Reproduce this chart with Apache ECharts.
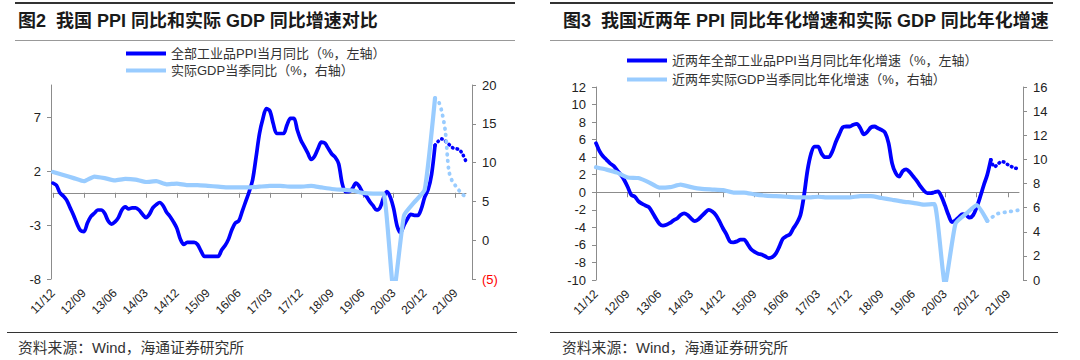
<!DOCTYPE html>
<html><head><meta charset="utf-8">
<script src="https://cdn.jsdelivr.net/npm/echarts@6/dist/echarts.min.js"></script>
<style>html,body{margin:0;padding:0;background:#fff}#c{width:1080px;height:360px}</style>
</head><body><div id="c"></div>
<script>
// ---------- data ----------
const months = ['11/12',
 '12/01','12/02','12/03','12/04','12/05','12/06','12/07','12/08','12/09','12/10','12/11','12/12',
 '13/01','13/02','13/03','13/04','13/05','13/06','13/07','13/08','13/09','13/10','13/11','13/12',
 '14/01','14/02','14/03','14/04','14/05','14/06','14/07','14/08','14/09','14/10','14/11','14/12',
 '15/01','15/02','15/03','15/04','15/05','15/06','15/07','15/08','15/09','15/10','15/11','15/12',
 '16/01','16/02','16/03','16/04','16/05','16/06','16/07','16/08','16/09','16/10','16/11','16/12',
 '17/01','17/02','17/03','17/04','17/05','17/06','17/07','17/08','17/09','17/10','17/11','17/12',
 '18/01','18/02','18/03','18/04','18/05','18/06','18/07','18/08','18/09','18/10','18/11','18/12',
 '19/01','19/02','19/03','19/04','19/05','19/06','19/07','19/08','19/09','19/10','19/11','19/12',
 '20/01','20/02','20/03','20/04','20/05','20/06','20/07','20/08','20/09','20/10','20/11','20/12',
 '21/01','21/02','21/03','21/04','21/05','21/06','21/07','21/08','21/09','21/10','21/11','21/12'];

// Chart 2 (left): PPI YoY monthly, 2011/12 .. 2021/03 (solid)
const ppiYoY = [0.9,
 0.7,0.0,-0.3,-0.7,-1.4,-2.1,-2.9,-3.5,-3.6,-2.8,-2.2,-1.9,
 -1.6,-1.6,-1.9,-2.6,-2.9,-2.7,-2.3,-1.6,-1.3,-1.5,-1.4,-1.4,
 -1.6,-2.0,-2.3,-2.0,-1.4,-1.1,-0.9,-1.2,-1.8,-2.2,-2.7,-3.3,
 -4.3,-4.8,-4.6,-4.6,-4.6,-4.8,-5.4,-5.9,-5.9,-5.9,-5.9,-5.9,
 -5.3,-4.9,-4.3,-3.4,-2.8,-2.6,-1.7,-0.8,0.1,1.2,3.3,5.5,
 6.9,7.8,7.6,6.4,5.5,5.5,5.5,6.3,6.9,6.9,5.8,4.9,
 4.3,3.7,3.1,3.4,4.1,4.7,4.6,4.1,3.6,3.3,2.7,0.9,
 0.1,0.1,0.4,0.9,0.6,0.0,-0.3,-0.8,-1.2,-1.6,-1.4,-0.5,
 0.1,-0.4,-1.5,-3.1,-3.7,-3.0,-2.4,-2.0,-2.1,-2.1,-1.5,-0.4,
 0.3,1.7,4.4];
// dotted part, 2021/03 .. 2021/12
const ppiYoYDotted = [4.4,4.8,5.0,4.8,4.5,4.2,4.1,4.0,3.6,2.9];
// GDP YoY quarterly, 2011Q4 .. 2021Q1 (solid, quarter-end months)
const gdpYoYQ = [8.8,8.4,8.0,7.6,8.2,8.0,7.7,7.9,7.8,7.5,7.6,7.2,7.3,7.1,7.1,7.0,6.9,6.8,6.8,6.8,
 6.9,7.0,7.0,6.9,6.9,7.0,6.8,6.6,6.5,6.4,6.1,6.0,6.0,-6.8,3.2,4.9,6.5,18.3];
// dotted part, 2021/03 .. 2021/12
const gdpYoYDotted = [18.3,17.9,16.5,14.0,9.0,7.6,7.0,6.4,5.9,5.6];

// Chart 3 (right): two-year annualized PPI monthly, 2011/12 .. 2021/04 (solid)
const ppi2y = [5.6,
 4.7,4.1,3.7,3.3,3.0,2.5,2.0,1.4,0.6,-0.3,-0.5,-1.0,
 -1.3,-1.5,-1.7,-2.3,-3.0,-3.6,-3.8,-3.7,-3.5,-3.2,-3.0,-2.6,
 -2.4,-2.6,-3.0,-3.3,-3.1,-2.7,-2.3,-2.0,-2.2,-2.6,-3.3,-4.1,
 -4.8,-5.6,-5.7,-5.6,-5.4,-5.4,-5.9,-6.5,-6.8,-7.0,-7.1,-7.3,
 -7.5,-7.4,-7.0,-6.2,-5.3,-5.0,-4.8,-4.1,-3.5,-2.6,-0.4,2.5,
 4.4,5.2,5.2,4.4,4.0,4.0,4.6,5.7,6.6,7.4,7.5,7.5,
 7.7,7.8,7.3,6.6,6.9,7.4,7.5,7.3,7.1,6.8,5.6,3.3,
 2.2,1.8,2.4,2.6,2.3,1.8,1.3,0.7,0.2,-0.1,-0.1,0.0,
 0.1,-0.5,-1.5,-2.6,-3.4,-3.2,-2.8,-2.5,-2.6,-2.9,-2.6,-1.7,
 -0.5,0.8,2.0,3.7];
// dotted part, 2021/04 .. 2021/12
const ppi2yDotted = [3.7,2.9,3.2,3.5,3.4,3.1,2.9,2.75,2.65];
// two-year annualized GDP quarterly, 2011Q4 .. 2021Q1 (solid)
const gdp2yQ = [9.35,9.15,8.9,8.5,8.45,8.1,7.65,7.7,7.9,7.7,7.55,7.5,7.45,7.25,7.25,7.1,7.0,6.95,6.9,6.85,
 6.85,6.9,6.85,6.85,6.85,6.95,6.95,6.8,6.65,6.5,6.4,6.25,6.3,-0.4,4.7,5.5,6.2,4.9];
// dotted part, 2021Q1 .. 2021Q4
const gdp2yDottedQ = [4.9,5.5,5.65,5.8];

const leftAxisTicks2 = [-8,-3,2,7];

const NAME_L1 = '全部工业品PPI当月同比（%，左轴）';
const NAME_L2 = '实际GDP当季同比（%，右轴）';
const NAME_R1 = '近两年全部工业品PPI当月同比年化增速（%，左轴）';
const NAME_R2 = '近两年实际GDP当季同比年化增速（%，右轴）';

// ---------- helpers (placement only) ----------
const N = months.length;
function monthly(vals, start) { const a = new Array(N).fill(null); vals.forEach((v,i)=>{a[start+i]=v;}); return a; }
function quarterly(vals, start) { const a = new Array(N).fill(null); vals.forEach((v,i)=>{a[start+3*i]=v;}); return a; }

const FONT = '"Liberation Sans", Arial, "Noto Sans CJK SC", sans-serif';
const DARK = '#0000ff', LIGHT = '#99ccff', AX = '#8c8c8c', TXT = '#222';

function xPair(g) {
  return [{
    type:'category', gridIndex:g, data:months, boundaryGap:false,
    axisLine:{onZero:true, lineStyle:{color:AX,width:1}},
    axisTick:{show:true, interval:8, length:5, lineStyle:{color:AX}},
    axisLabel:{show:false}, splitLine:{show:false}
  },{
    type:'category', gridIndex:g, data:months, boundaryGap:false, position:'bottom',
    axisLine:{show:false, onZero:false}, axisTick:{show:false}, splitLine:{show:false},
    axisLabel:{interval:8, rotate:45, margin:12, fontSize:12, color:TXT, fontFamily:FONT}
  }];
}
const yBase = {type:'value', splitLine:{show:false},
  axisLine:{show:true, lineStyle:{color:AX}}, axisTick:{show:true, length:4, lineStyle:{color:AX}}};

const lineSeries = (name, x, y, data, color, width, extra) => Object.assign({
  name, type:'line', xAxisIndex:x, yAxisIndex:y, data, symbol:'none', showSymbol:false,
  connectNulls:true, smooth:0.3, lineStyle:{color, width, cap:'round', join:'round'}, itemStyle:{color},
  emphasis:{disabled:true}, silent:true, animation:false
}, extra||{});

const option = {
  animation:false,
  textStyle:{fontFamily:FONT},
  title:[
    {text:'图2  我国 PPI 同比和实际 GDP 同比增速对比', left:18, top:12, padding:0,
     textStyle:{fontSize:18, fontWeight:'bold', color:'#1a1a1a', fontFamily:FONT}},
    {text:'图3  我国近两年 PPI 同比年化增速和实际 GDP 同比年化增速', left:563, top:12, padding:0,
     textStyle:{fontSize:18, fontWeight:'bold', color:'#1a1a1a', fontFamily:FONT}},
    {text:'资料来源：Wind，海通证券研究所', left:18, top:341, padding:0,
     textStyle:{fontSize:14.8, fontWeight:'normal', color:'#333', fontFamily:FONT}},
    {text:'资料来源：Wind，海通证券研究所', left:562, top:341, padding:0,
     textStyle:{fontSize:14.8, fontWeight:'normal', color:'#333', fontFamily:FONT}}
  ],
  graphic:[
    {type:'line', shape:{x1:15,y1:3,x2:515,y2:3}, style:{stroke:'#333',lineWidth:2}},
    {type:'line', shape:{x1:550,y1:3,x2:1053,y2:3}, style:{stroke:'#333',lineWidth:2}},
    {type:'line', shape:{x1:15,y1:40.5,x2:515,y2:40.5}, style:{stroke:'#999',lineWidth:1.2}},
    {type:'line', shape:{x1:550,y1:40.5,x2:1053,y2:40.5}, style:{stroke:'#999',lineWidth:1.2}},
    {type:'line', shape:{x1:7,y1:332.5,x2:517,y2:332.5}, style:{stroke:'#333',lineWidth:1}},
    {type:'line', shape:{x1:550,y1:332.5,x2:1058,y2:332.5}, style:{stroke:'#333',lineWidth:1}}
  ],
  legend:[
    {data:[NAME_L1, NAME_L2], orient:'vertical', left:126, top:47, padding:0, itemGap:4,
     itemWidth:40, itemHeight:4, icon:'rect', selectedMode:false,
     textStyle:{fontSize:13, color:'#333', fontFamily:FONT}},
    {data:[NAME_R1, NAME_R2], orient:'vertical', left:627, top:54, padding:0, itemGap:6,
     itemWidth:40, itemHeight:4, icon:'rect', selectedMode:false,
     textStyle:{fontSize:13, color:'#333', fontFamily:FONT}}
  ],
  grid:[
    {left:53, top:85, width:413, height:194, containLabel:false},
    {left:596, top:87, width:423, height:193, containLabel:false}
  ],
  xAxis:[...xPair(0), ...xPair(1)],
  yAxis:[
    Object.assign({}, yBase, {gridIndex:0, position:'left', min:-8, max:10, offset:2,
      axisTick:{show:true, length:4, lineStyle:{color:AX}, customValues:leftAxisTicks2},
      axisLabel:{customValues:leftAxisTicks2, margin:10, fontSize:13, color:TXT, fontFamily:FONT}}),
    Object.assign({}, yBase, {gridIndex:0, position:'right', min:-5, max:20, interval:5, offset:6,
      axisLabel:{margin:10, fontSize:13, fontFamily:FONT,
        formatter:v => v < 0 ? '(' + (-v) + ')' : String(v),
        color:v => Number(v) < 0 ? '#ff0000' : TXT}}),
    Object.assign({}, yBase, {gridIndex:1, position:'left', min:-10, max:12, interval:2,
      axisLabel:{margin:10, fontSize:13, color:TXT, fontFamily:FONT}}),
    Object.assign({}, yBase, {gridIndex:1, position:'right', min:0, max:16, interval:2, offset:4,
      axisLabel:{margin:10, fontSize:13, color:TXT, fontFamily:FONT}})
  ],
  series:[
    lineSeries(NAME_L1, 0, 0, monthly(ppiYoY,0), DARK, 3.7),
    lineSeries('PPI同比（虚线）', 0, 0, monthly(ppiYoYDotted,111), DARK, 3.6,
      {lineStyle:{color:DARK,width:3.6,type:[0.5,4.2],cap:'round'}}),
    lineSeries(NAME_L2, 0, 1, quarterly(gdpYoYQ,0), LIGHT, 4.2, {smooth:0.15}),
    lineSeries('GDP同比（虚线）', 0, 1, monthly(gdpYoYDotted,111), LIGHT, 3.8,
      {lineStyle:{color:LIGHT,width:3.8,type:[0.5,6],cap:'round'}}),

    lineSeries(NAME_R1, 2, 2, monthly(ppi2y,0), DARK, 3.8),
    lineSeries('PPI两年（虚线）', 2, 2, monthly(ppi2yDotted,112), DARK, 3.6,
      {lineStyle:{color:DARK,width:3.6,type:[0.5,4.2],cap:'round'}}),
    lineSeries(NAME_R2, 2, 3, quarterly(gdp2yQ,0), LIGHT, 4.2, {smooth:0.15}),
    lineSeries('GDP两年（虚线）', 2, 3, quarterly(gdp2yDottedQ,111), LIGHT, 3.8,
      {smooth:0.3, lineStyle:{color:LIGHT,width:3.8,type:[0.5,6],cap:'round'}})
  ]
};
const chart = echarts.init(document.getElementById('c'), null, {renderer:'svg', width:1080, height:360});
chart.setOption(option);
</script>
</body></html>
